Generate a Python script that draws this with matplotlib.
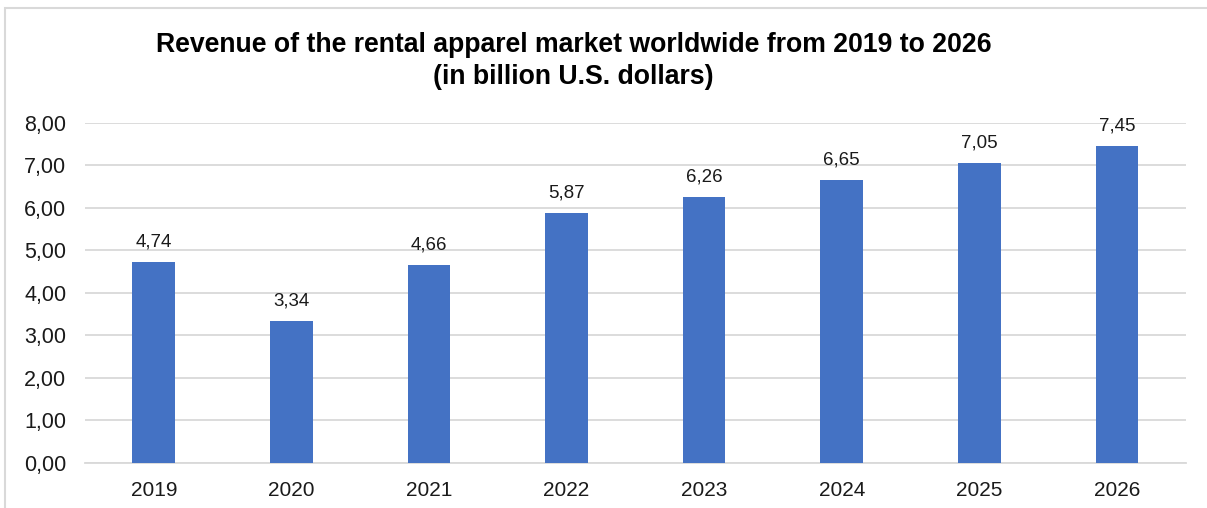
import matplotlib.pyplot as plt
from matplotlib.patches import Rectangle

plt.rcParams['font.family'] = ['Liberation Sans', 'DejaVu Sans']

years = ['2019', '2020', '2021', '2022', '2023', '2024', '2025', '2026']
revenue = [4.74, 3.34, 4.66, 5.87, 6.26, 6.65, 7.05, 7.45]
y_ticks = [0, 1, 2, 3, 4, 5, 6, 7, 8]

fig = plt.figure(figsize=(12.07, 5.08), dpi=100)
ax = fig.add_axes([0.0704, 0.0886, 0.912, 0.6694])

# light frame round the whole chart area
fig.patches.append(Rectangle((0.004, -0.05), 1.1, 1.034, transform=fig.transFigure,
                             fill=False, edgecolor='#d9d9d9', linewidth=1.5))

x = range(len(years))
bars = ax.bar(x, revenue, width=0.31, color='#4472c4', zorder=3)
for xi, v in zip(x, revenue):
    ax.text(xi, v + 0.27, f'{v:.2f}'.replace('.', ','), ha='center', va='bottom',
            fontsize=13.5, color='#1a1a1a')

ax.set_xlim(-0.5, len(years) - 0.5)
ax.set_ylim(0, 8)
ax.set_yticks(y_ticks)
ax.set_yticklabels([f'{t:.2f}'.replace('.', ',') for t in y_ticks], fontsize=15.5, color='#1a1a1a')
ax.set_xticks(list(x))
ax.set_xticklabels(years, fontsize=15, color='#1a1a1a')
ax.tick_params(length=0, axis='y', pad=13.5)
ax.tick_params(length=0, axis='x', pad=13)
ax.grid(axis='y', color='#d9d9d9', linewidth=1.3, zorder=0)
for side in ['top', 'right', 'left']:
    ax.spines[side].set_visible(False)
ax.spines['bottom'].set_color('#d9d9d9')
ax.spines['bottom'].set_linewidth(1.3)

fig.text(0.475, 0.879, 'Revenue of the rental apparel market worldwide from 2019 to 2026\n(in billion U.S. dollars)',
         ha='center', va='center', fontsize=19.2, fontweight='bold', linespacing=1.3)

fig.savefig('out.png', dpi=100)
